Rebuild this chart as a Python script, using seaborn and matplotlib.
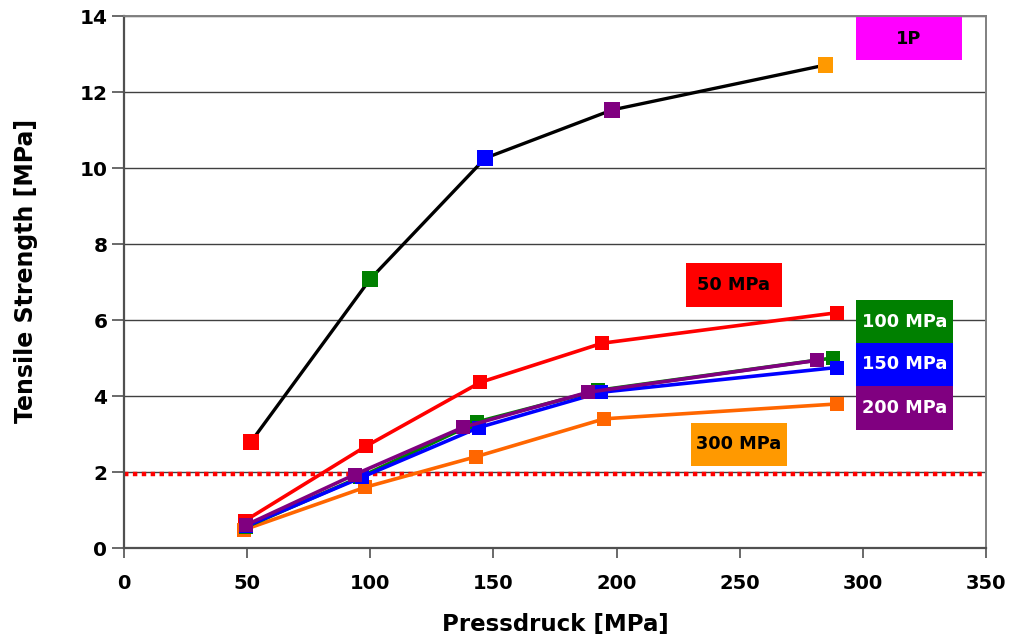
import pandas as pd
import matplotlib
matplotlib.use("Agg")
import matplotlib.pyplot as plt
from matplotlib.patches import Rectangle
import seaborn as sns

# measured points per pressing series (x = Pressdruck, y = tensile strength)
x_1p = [51.5, 100, 146.7, 198.3, 284.8]
y_1p = [2.79, 7.08, 10.26, 11.53, 12.71]
marker_cols_1p = ["#FF0000", "#008000", "#0000FF", "#800080", "#FF9900"]

x_50 = [49.2, 98.3, 144.7, 194.2, 289.3]
y_50 = [0.72, 2.68, 4.36, 5.39, 6.19]

x_100 = [49.5, 96.0, 143.5, 192.6, 287.8]
y_100 = [0.55, 1.87, 3.32, 4.15, 5.0]

x_150 = [49.5, 96.5, 144.0, 193.8, 289.3]
y_150 = [0.57, 1.86, 3.17, 4.1, 4.75]

x_200 = [49.4, 93.6, 137.8, 188.5, 281.5]
y_200 = [0.6, 1.93, 3.18, 4.1, 4.94]

x_300 = [48.8, 98.0, 142.8, 195.0, 289.3]
y_300 = [0.48, 1.6, 2.4, 3.4, 3.79]

limit_value = 1.95

# label boxes: text, centre x, centre y, width, face colour, text colour
box_texts = ["1P", "50 MPa", "100 MPa", "150 MPa", "200 MPa", "300 MPa"]
box_cx = [318.6, 247.6, 316.9, 316.9, 316.9, 249.6]
box_cy = [13.4, 6.91, 5.96, 4.83, 3.69, 2.73]
box_w = [43.0, 39.0, 39.0, 39.0, 39.0, 39.0]
box_h = [1.13, 1.16, 1.13, 1.13, 1.16, 1.13]
box_face = ["#FF00FF", "#FF0000", "#008000", "#0000FF", "#800080", "#FF9900"]
box_fc = ["black", "black", "white", "white", "white", "black"]

series = [
    (x_50, y_50, "#FF0000"),
    (x_300, y_300, "#FF6600"),
    (x_100, y_100, "#008000"),
    (x_150, y_150, "#0000FF"),
    (x_200, y_200, "#800080"),
]

sns.set_style("white")
plt.rcParams["font.family"] = ["DejaVu Sans"]
plt.rcParams["font.weight"] = "bold"
plt.rcParams["text.color"] = "black"
plt.rcParams["axes.labelcolor"] = "black"
plt.rcParams["xtick.labelcolor"] = "black"
plt.rcParams["ytick.labelcolor"] = "black"

fig = plt.figure(figsize=(10.09, 6.43), dpi=100)
ax = fig.add_axes([124 / 1009, 1 - 548 / 643, (986 - 124) / 1009, (548 - 16) / 643])

# gridlines
for yv in range(2, 15, 2):
    ax.axhline(yv, color="#404040", lw=1.0, zorder=0)

# dotted limit line
ax.axhline(limit_value, color="#FF0000", lw=3.2, ls=(0, (1, 1)), zorder=1)

# 1P curve: black line, markers in each series colour
sns.lineplot(x=x_1p, y=y_1p, color="black", lw=2.4, sort=False, ax=ax, zorder=3)
df_1p = pd.DataFrame({"x": x_1p, "y": y_1p, "c": marker_cols_1p})
sns.scatterplot(data=df_1p, x="x", y="y", hue="c", palette=dict(zip(marker_cols_1p, marker_cols_1p)),
                marker="s", s=130, linewidth=0, legend=False, ax=ax, zorder=4)

for i, (xs, ys, col) in enumerate(series):
    sns.lineplot(x=xs, y=ys, color=col, lw=2.6, sort=False, marker="s",
                 markersize=10, markeredgewidth=0, ax=ax, zorder=5 + i)

for t, cx, cy, w, h, fc, tc in zip(box_texts, box_cx, box_cy, box_w, box_h, box_face, box_fc):
    ax.add_patch(Rectangle((cx - w / 2, cy - h / 2), w, h, facecolor=fc, edgecolor="none", zorder=20))
    ax.text(cx, cy, t, ha="center", va="center", color=tc, fontsize=12.8,
            fontweight="bold", zorder=21)

ax.set_xlim(0, 350)
ax.set_ylim(0, 14)
ax.set_xticks(range(0, 351, 50))
ax.set_yticks(range(0, 15, 2))
ax.tick_params(axis="y", direction="out", length=9, width=1.2, color="#505050",
               labelsize=14.5, pad=3, left=True, labelcolor="black")
ax.tick_params(axis="x", direction="out", length=7, width=1.2, color="#505050",
               labelsize=14, pad=12, bottom=True, labelcolor="black")
for lab in ax.get_xticklabels() + ax.get_yticklabels():
    lab.set_fontweight("bold")

for side in ["left", "bottom"]:
    ax.spines[side].set_color("#505050")
    ax.spines[side].set_linewidth(1.6)
for side in ["top", "right"]:
    ax.spines[side].set_color("#808080")
    ax.spines[side].set_linewidth(1.4)

ax.set_xlabel("Pressdruck [MPa]", fontsize=16.5, fontweight="bold", labelpad=14, color="black")
ax.set_ylabel("Tensile Strength [MPa]", fontsize=17, fontweight="bold", color="black")
ax.yaxis.set_label_coords(-0.1, 0.52)

fig.savefig("out.png", dpi=100)
